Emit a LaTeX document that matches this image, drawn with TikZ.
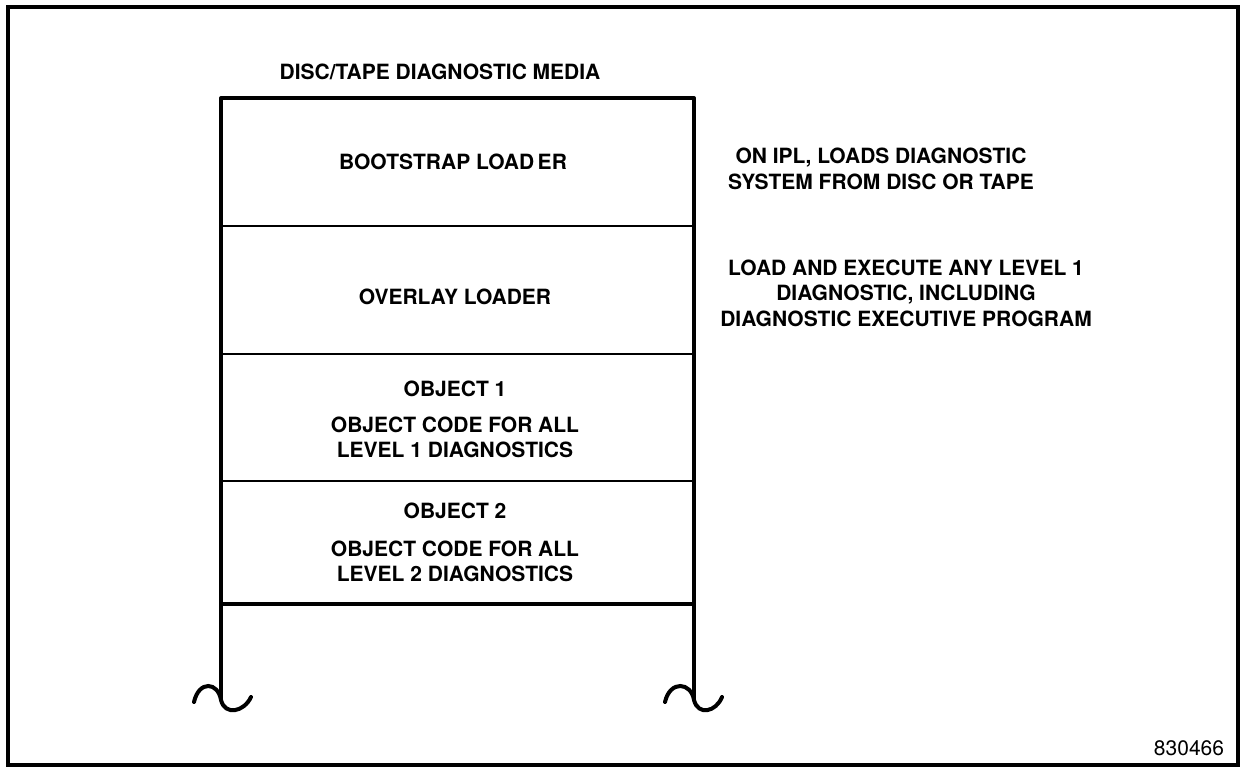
\documentclass[tikz,border=0pt]{standalone}
\usepackage{fontspec}
\setmainfont{TeX Gyre Heros}
\begin{document}
\begin{tikzpicture}[x=0.5pt,y=-0.5pt,
  lbl/.style={font=\bfseries\fontsize{10.5}{12}\selectfont, inner sep=0pt, align=center},
  note/.style={font=\bfseries\fontsize{10.5}{12.8}\selectfont, inner sep=0pt, align=center},
  outer/.style={line width=2pt},
  thin/.style={line width=1.4pt},
  framest/.style={line width=1.6pt}]
\useasboundingbox (0,0) rectangle (1245,770);
\draw[framest] (8,7) rectangle (1238,765);
% stack corners
\coordinate (tl) at (221,98);
\coordinate (tr) at (694,98);
\coordinate (bl) at (221,700);
\coordinate (br) at (694,700);
\draw[outer,line join=round] (bl) -- (tl) -- (tr) -- (br);
\draw[thin] (221,226) -- (694,226);
\draw[thin] (221,354) -- (694,354);
\draw[thin] (221,481) -- (694,481);
\draw[outer] (221,604) -- (694,604);
% squiggles
\draw[outer,line cap=round] (194,702) .. controls (199,680) and (218,682) .. (221,700) .. controls (225,716) and (244,712) .. (251,697);
\draw[outer,line cap=round] (665,702) .. controls (670,680) and (691,682) .. (694,700) .. controls (698,716) and (716,712) .. (722,697);
% texts
\node[lbl] (title) at (440,72) {DISC/TAPE DIAGNOSTIC MEDIA};
\node[lbl] (boot) at (453,162) {BOOTSTRAP LOAD\,ER};
\node[lbl] (ovl) at (455,297) {OVERLAY LOADER};
\node[lbl] (ob1) at (455,389) {OBJECT 1};
\node[lbl] (ob1a) at (455,425) {OBJECT CODE FOR ALL};
\node[lbl] (ob1b) at (455,450) {LEVEL 1 DIAGNOSTICS};
\node[lbl] (ob2) at (455,511) {OBJECT 2};
\node[lbl] (ob2a) at (455,549) {OBJECT CODE FOR ALL};
\node[lbl] (ob2b) at (455,574) {LEVEL 2 DIAGNOSTICS};
\node[note] (n1) at (881,169) {ON IPL, LOADS DIAGNOSTIC\\SYSTEM FROM DISC OR TAPE};
\node[note] (n2) at (906,293) {LOAD AND EXECUTE ANY LEVEL 1\\DIAGNOSTIC, INCLUDING\\DIAGNOSTIC EXECUTIVE PROGRAM};
\node[font=\fontsize{10.5}{12}\selectfont, inner sep=0pt] (num) at (1189,748) {830466};
\end{tikzpicture}
\end{document}
